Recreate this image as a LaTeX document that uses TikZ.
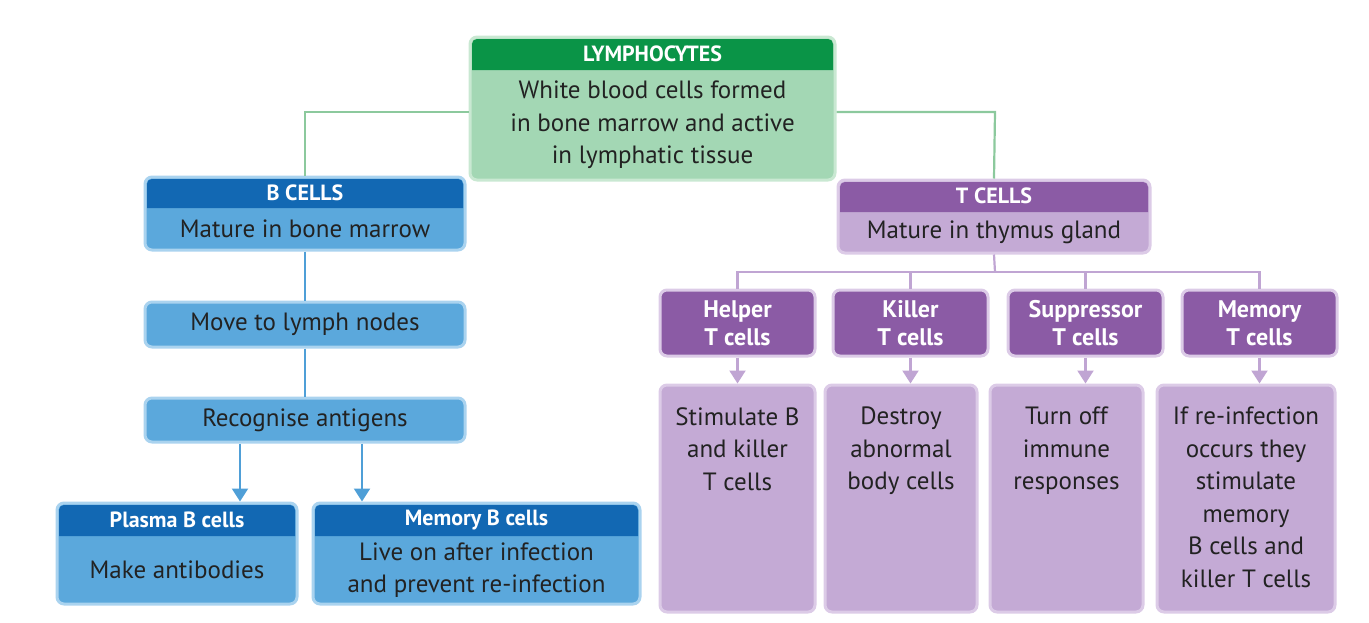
\documentclass[tikz,border=0pt]{standalone}
\usepackage{fontspec}
\setmainfont{PT Sans}
\usetikzlibrary{arrows.meta}
\definecolor{GH}{HTML}{0A9447}\definecolor{GB}{HTML}{A3D7B4}\definecolor{GL}{HTML}{C9E8D2}\definecolor{GC}{HTML}{8CC99D}
\definecolor{BH}{HTML}{1268B3}\definecolor{BB}{HTML}{5BA8DC}\definecolor{BL}{HTML}{AAD3EF}\definecolor{BC}{HTML}{4F9FD7}
\definecolor{PH}{HTML}{8B5BA5}\definecolor{PB}{HTML}{C4AAD5}\definecolor{PL}{HTML}{DCCBE7}\definecolor{PC}{HTML}{C0A5D3}
\definecolor{txt}{HTML}{222222}
\tikzset{
 boxshape/.style={line width=3pt, rounded corners=7pt, inner sep=0pt},
 htxt/.style={text=white, font=\bfseries\fontsize{22}{24}\selectfont, align=center, inner sep=0pt},
 btxt/.style={text=txt, font=\fontsize{25}{32.5}\selectfont, align=center, inner sep=0pt},
 conn/.style={line width=2.2pt},
 arr/.style={line width=2.2pt, -{Triangle[width=16pt,length=13pt]}},
}
% name, x1,y1,x2,y2, header bottom, colour prefix, header, body
\newcommand\mkbox[9]{%
 \node[boxshape, draw=#7L, fill=#7B, minimum width={#4pt-#2pt}, minimum height={#5pt-#3pt}] (#1) at ({(#2+#4)/2},{(#3+#5)/2}) {};
 \fill[#7H] (#2+2,#6) {[rounded corners=5pt] -- (#2+2,#3+2) -- (#4-2,#3+2)} -- (#4-2,#6) -- cycle;
 \node[htxt] (#1h) at ({(#2+#4)/2},{(#3+#6)/2}) {#8};
 \node[btxt] (#1b) at ({(#2+#4)/2},{(#6+#5)/2}) {#9};
}
\begin{document}
\begin{tikzpicture}[x=1pt,y=-1pt]
\useasboundingbox (0,0) rectangle (1369,622);
\coordinate (gl) at (305,112); \coordinate (gr) at (995,112);
\coordinate (a1) at (240,0); \coordinate (a2) at (362,0);
\mkbox{lym}{470}{37}{835}{180}{70}{G}{LYMPHOCYTES}{White blood cells formed\\in bone marrow and active\\in lymphatic tissue}
\mkbox{bc}{145}{177}{465}{250}{208}{B}{B CELLS}{Mature in bone marrow}
\mkbox{tc}{838}{180}{1150}{253}{212}{P}{T CELLS}{Mature in thymus gland}
\node[boxshape, draw=BL, fill=BB, minimum width=320pt, minimum height=45pt, btxt] (mv) at (305,324.5) {Move to lymph nodes};
\node[boxshape, draw=BL, fill=BB, minimum width=320pt, minimum height=44pt, btxt] (rg) at (305,420) {Recognise antigens};
\mkbox{pl}{57}{503}{297}{604}{536}{B}{Plasma B cells}{Make antibodies}
\mkbox{mb}{313}{503}{640}{604}{536}{B}{Memory B cells}{Live on after infection\\and prevent re-infection}
\draw[conn, GC] (lym.west |- gl) -- (gl) -- (bc.north);
\draw[conn, GC] (lym.east |- gr) -- (gr) -- (tc.north);
\draw[conn, BC] (bc.south) -- (mv.north);
\draw[conn, BC] (mv.south) -- (rg.north);
\draw[arr, BC] (rg.south -| a1) -- (pl.north -| a1);
\draw[arr, BC] (rg.south -| a2) -- (mb.north -| a2);
\foreach \n/\xa/\xb/\t in {hp/660/815/Helper, kl/833/988/Killer, sp/1008/1163/Suppressor, mt/1182/1337/Memory}{
 \node[boxshape, draw=PL, fill=PH, minimum width={\xb pt-\xa pt}, minimum height=66pt, htxt, font=\bfseries\fontsize{24}{28}\selectfont] (\n) at ({(\xa+\xb)/2},323) {\t\\T cells};
}
\coordinate (tj) at (995,272);
\draw[conn, PC] (tc.south) -- (tj);
\draw[conn, PC] (hp.north) -- (hp.north |- tj) -- (mt.north |- tj) -- (mt.north);
\draw[conn, PC] (kl.north) -- (kl.north |- tj);
\draw[conn, PC] (sp.north) -- (sp.north |- tj);
\foreach \n/\xa/\xb/\u/\t in {ha/660/815/hp/{Stimulate B\\and killer\\T cells}, ka/825/977/kl/{Destroy\\abnormal\\body cells}, sa/990/1143/sp/{Turn off\\immune\\responses}, ma/1157/1335/mt/{If re-infection\\occurs they\\stimulate\\memory\\B cells and\\killer T cells}}{
 \node[boxshape, draw=PL, fill=PB, minimum width={\xb pt-\xa pt}, minimum height=227pt] (\n) at ({(\xa+\xb)/2},498.5) {};
 \node[btxt, anchor=north] (\n t) at ({(\xa+\xb)/2},407) {\t};
 \draw[arr, PC] (\u.south) -- (\u.south |- \n.north);
}
\end{tikzpicture}
\end{document}
